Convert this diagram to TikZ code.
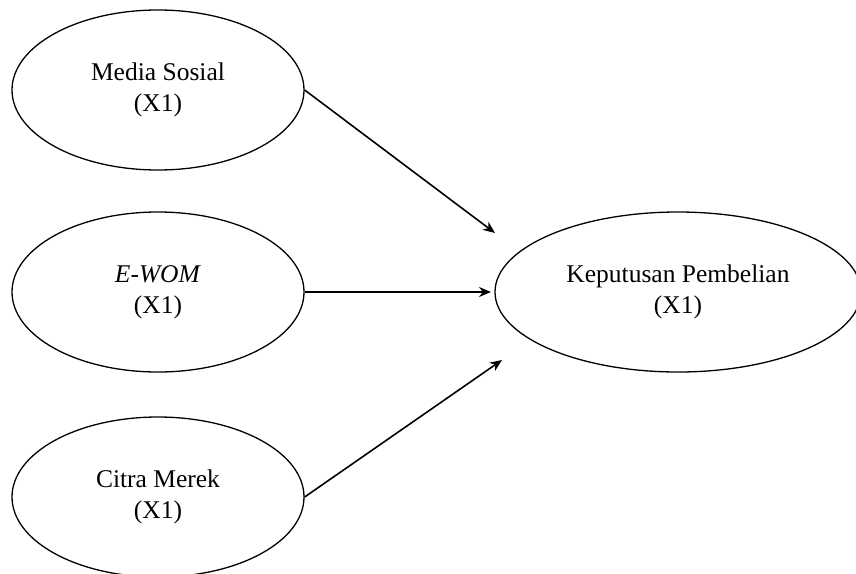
\documentclass[tikz,border=0pt]{standalone}
\usepackage{fontspec}
\setmainfont{Liberation Serif}
\usetikzlibrary{arrows.meta,shapes.geometric}
\begin{document}
\begin{tikzpicture}[x=1pt,y=-1pt,
  var/.style={draw,line width=1.3pt,ellipse,inner sep=0pt,font=\fontsize{25.5}{31}\selectfont,align=center},
  conn/.style={line width=1.6pt,-{Stealth[length=12pt,width=10pt]}}]
\useasboundingbox (0,0) rectangle (856,573);
\clip (0,0) rectangle (856,573);
\fill[white] (0,0) rectangle (856,573);
\node[var,minimum width=292pt,minimum height=160pt] (ms) at (158,90) {Media Sosial\\(X1)};
\node[var,minimum width=292pt,minimum height=160pt] (ew) at (158,292) {\textit{E-WOM}\\(X1)};
\node[var,minimum width=292pt,minimum height=160pt] (cm) at (158,497) {Citra Merek\\(X1)};
\node[var,minimum width=366pt,minimum height=160pt] (kp) at (678,292) {Keputusan Pembelian\\(X1)};
\coordinate (t1) at (495,233);
\coordinate (t2) at (491,292);
\coordinate (t3) at (502,360);
\draw[conn] (ms.east) -- (t1);
\draw[conn] (ew.east) -- (t2);
\draw[conn] (cm.east) -- (t3);
\end{tikzpicture}
\end{document}
